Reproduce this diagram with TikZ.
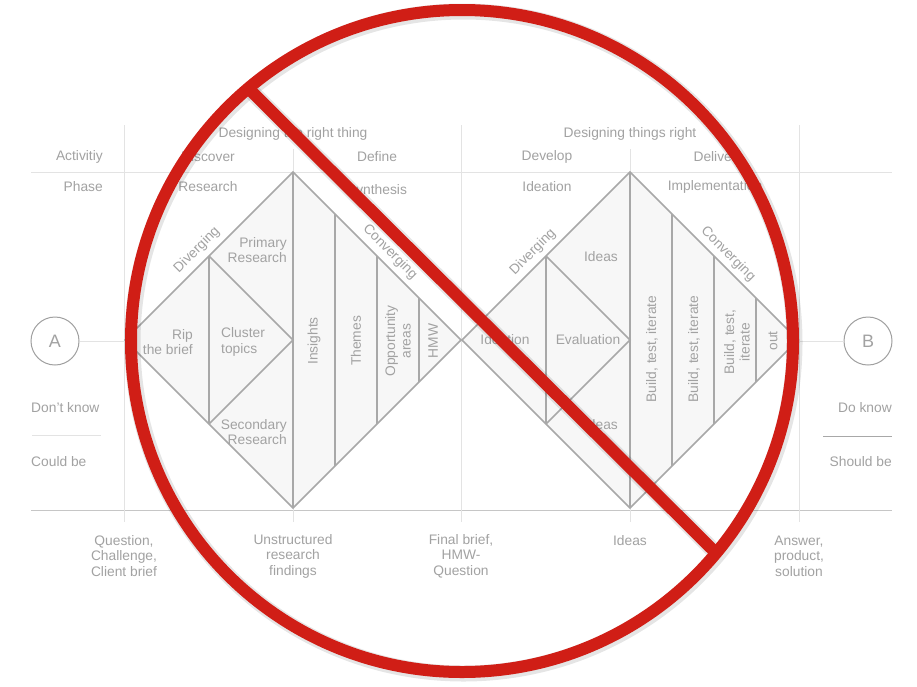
\documentclass[tikz,border=0pt]{standalone}
\usepackage{fontspec}
\setmainfont{Liberation Sans}
\definecolor{txt}{HTML}{A2A2A2}
\definecolor{gridc}{HTML}{E3E3E3}
\definecolor{basec}{HTML}{C6C6C6}
\definecolor{dline}{HTML}{A8A8A8}
\definecolor{dfill}{HTML}{F7F7F7}
\definecolor{circc}{HTML}{A0A0A0}
\definecolor{nored}{HTML}{D01E16}
\begin{document}
\begin{tikzpicture}[x=1pt,y=-1pt,
  lbl/.style={text=txt, font=\fontsize{13.8}{15.5}\selectfont, inner sep=0pt, align=center},
  gridline/.style={draw=gridc, line width=1pt},
  dia/.style={draw=dline, line width=1.6pt, line join=miter},
  endpt/.style={circle, draw=circc, line width=1pt, minimum size=48pt, inner sep=0pt, text=txt, font=\fontsize{18}{18}\selectfont},
  nosign/.style={draw=nored, line width=12pt},
  noshadow/.style={draw=black, opacity=0.10, line width=16pt}
]
\useasboundingbox (0,0) rectangle (917,686);
\fill[white] (0,0) rectangle (917,686);

% grid
\draw[gridline] (31,172) -- (892,172);
\draw[draw=basec, line width=1pt] (31,510) -- (892,510);
\draw[gridline] (124,125) -- (124,522);
\draw[gridline] (461,125) -- (461,522);
\draw[gridline] (799,125) -- (799,522);
\draw[gridline] (293,149) -- (293,522);
\draw[gridline] (630,149) -- (630,522);
\draw[gridline] (32,435) -- (101,435);
\draw[draw=dline, line width=1pt] (823,436) -- (892,436);

% end points
\node[endpt] (A) at (55,341) {A};
\node[endpt] (B) at (868,341) {B};
\draw[gridline] (A) -- (B);

% diamond 1
\filldraw[dia, fill=dfill] (125,340) -- (293,172) -- (461,340) -- (293,508) -- cycle;
\draw[dia] (209,256) -- (293,340) -- (209,424);
\draw[dia] (209,256) -- (209,424);
\draw[dia] (293,172) -- (293,508);
\draw[dia] (335,214) -- (335,466);
\draw[dia] (377,256) -- (377,424);
\draw[dia] (419,298) -- (419,382);

% diamond 2
\begin{scope}[xshift=337pt]
\filldraw[dia, fill=dfill] (125,340) -- (293,172) -- (461,340) -- (293,508) -- cycle;
\draw[dia] (209,256) -- (293,340) -- (209,424);
\draw[dia] (209,256) -- (209,424);
\draw[dia] (293,172) -- (293,508);
\draw[dia] (335,214) -- (335,466);
\draw[dia] (377,256) -- (377,424);
\draw[dia] (419,298) -- (419,382);
\end{scope}

% headers
\node[lbl] (h1) at (293,134) {Designing the right thing};
\node[lbl] (h2) at (630,134) {Designing things right};
\node[lbl, anchor=east] (act) at (103,157) {Activitiy};
\node[lbl] (disc) at (208,157) {Discover};
\node[lbl] (defi) at (377,157) {Define};
\node[lbl] (deve) at (547,157) {Develop};
\node[lbl] (deli) at (715,157) {Deliver};
\node[lbl, anchor=east] (phase) at (103,187) {Phase};
\node[lbl] (res) at (208,187) {Research};
\node[lbl] (syn) at (377,191) {Synthesis};
\node[lbl] (idea) at (547,187) {Ideation};
\node[lbl] (impl) at (715,187) {Implementation};

% side labels
\node[lbl, anchor=west] (dk) at (31,408) {Don’t know};
\node[lbl, anchor=west] (cb) at (31,462) {Could be};
\node[lbl, anchor=east] (dok) at (892,408) {Do know};
\node[lbl, anchor=east] (sb) at (892,462) {Should be};

% diamond 1 labels
\node[lbl, rotate=45] (div1) at (197,250) {Diverging};
\node[lbl, rotate=-45] (conv1) at (390,252) {Converging};
\node[lbl, anchor=east, align=right] (prim) at (287,250) {Primary\\Research};
\node[lbl, anchor=east, align=right] (rip) at (193,342) {Rip\\the brief};
\node[lbl, anchor=west, align=left] (clu) at (221,342) {Cluster\\topics};
\node[lbl, anchor=east, align=right] (sec) at (287,432) {Secondary\\Research};
\node[lbl, rotate=90] (ins) at (314,341) {Insights};
\node[lbl, rotate=90] (the) at (356,341) {Themes};
\node[lbl, rotate=90] (opp) at (398,341) {Opportunity\\areas};
\node[lbl, rotate=90] (hmw) at (433,341) {HMW};

% diamond 2 labels
\node[lbl, rotate=45] (div2) at (533,252) {Diverging};
\node[lbl, rotate=-45] (conv2) at (728,254) {Converging};
\node[lbl] (ideas1) at (601,257) {Ideas};
\node[lbl] (ideat) at (505,340) {Ideation};
\node[lbl] (eval) at (588,340) {Evaluation};
\node[lbl] (ideas2) at (601,425) {Ideas};
\node[lbl, rotate=90] (bti1) at (652,349) {Build, test, iterate};
\node[lbl, rotate=90] (bti2) at (694,349) {Build, test, iterate};
\node[lbl, rotate=90] (bti3) at (737,342) {Build, test,\\iterate};
\node[lbl, rotate=90] (out) at (773,341) {out};

% bottom labels
\node[lbl] (q) at (124,556) {Question,\\Challenge,\\Client brief};
\node[lbl] (u) at (293,556) {Unstructured\\research\\findings};
\node[lbl] (f) at (461,556) {Final brief,\\HMW-\\Question};
\node[lbl] (i) at (630,541) {Ideas};
\node[lbl] (ans) at (799,556) {Answer,\\product,\\solution};

% no sign
\coordinate (nc) at (462,341);
\coordinate (s1) at (251,91);
\coordinate (s2) at (713,550);
\draw[noshadow] ([shift={(1.5,1.5)}]nc) circle[radius=331pt];
\draw[noshadow] ([shift={(1.5,1.5)}]s1) -- ([shift={(1.5,1.5)}]s2);
\draw[nosign] (nc) circle[radius=331pt];
\draw[nosign] (s1) -- (s2);
\end{tikzpicture}
\end{document}
